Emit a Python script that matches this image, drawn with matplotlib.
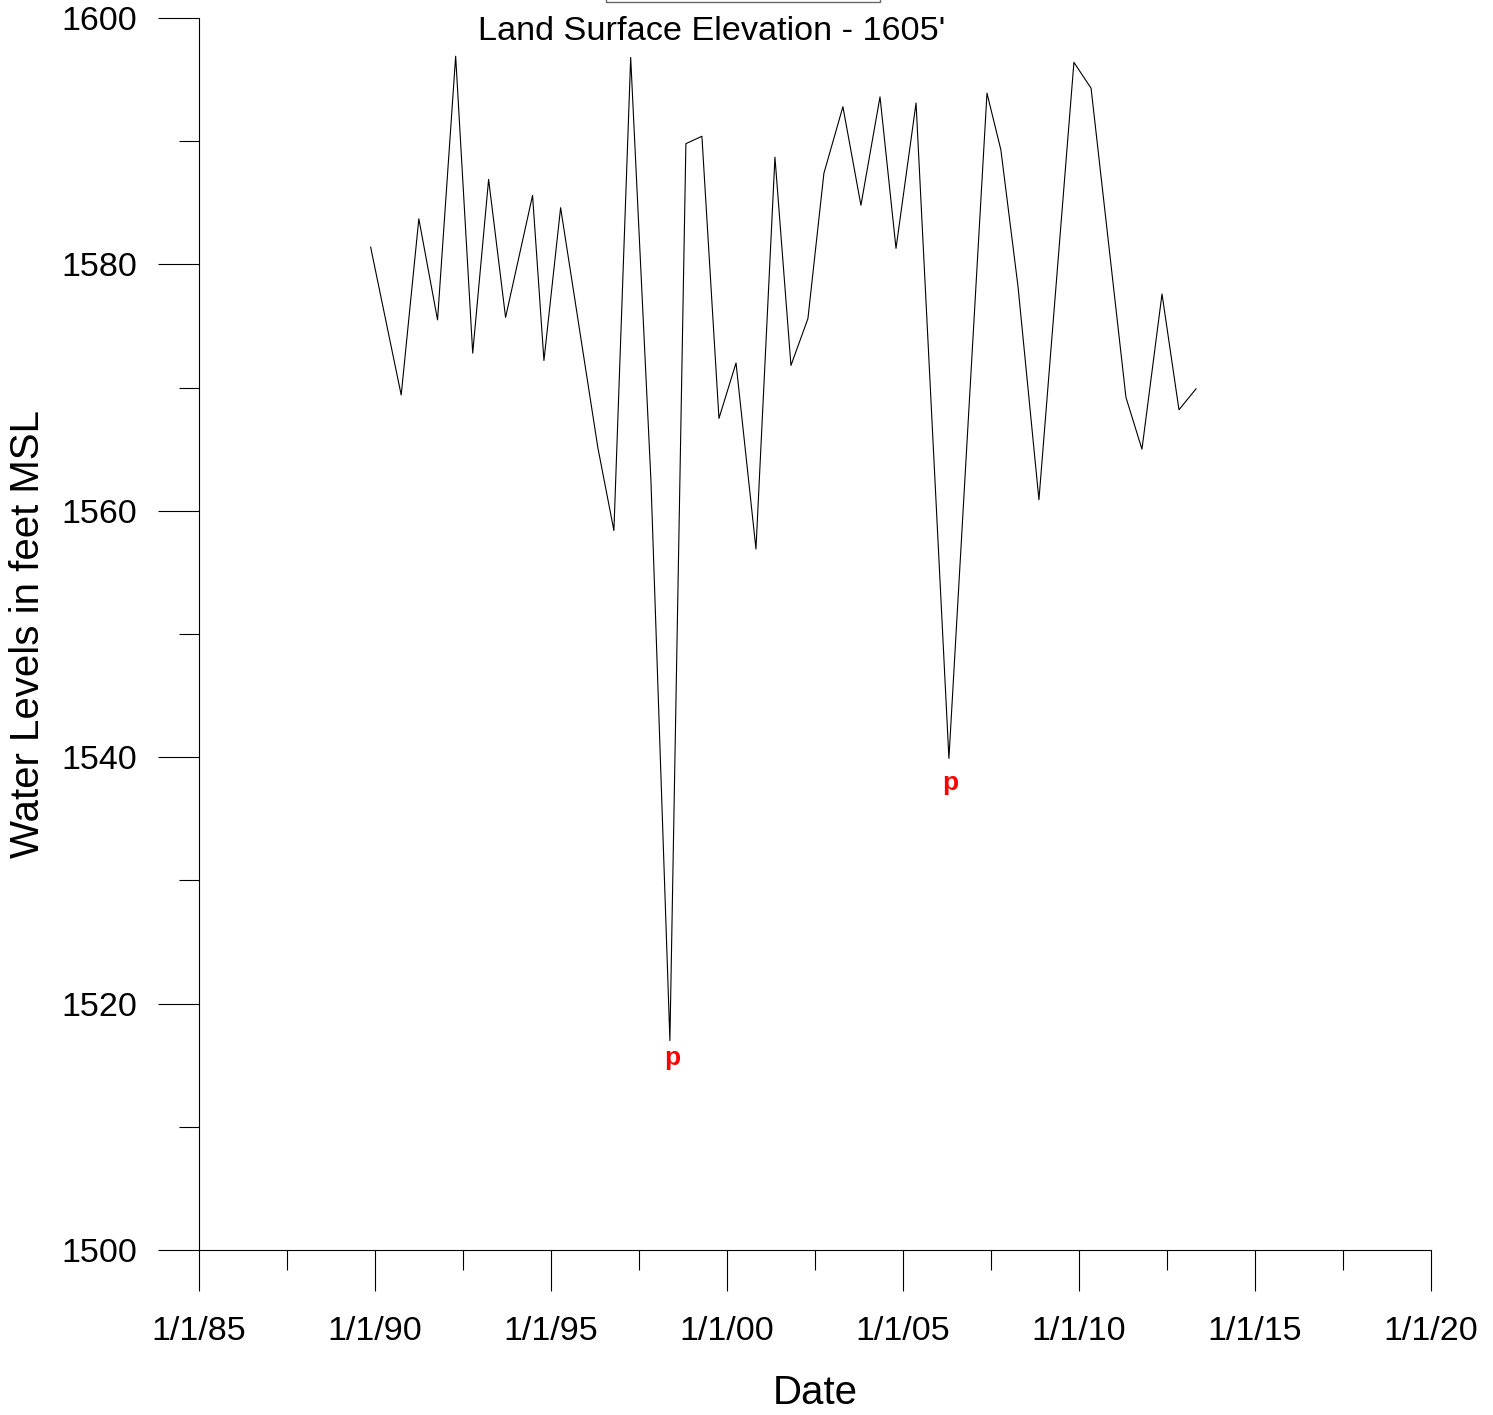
import matplotlib
matplotlib.use('Agg')
import matplotlib.pyplot as plt
import matplotlib.dates as mdates
import matplotlib.patches as mpatches
import numpy as np
from datetime import datetime

plt.rcParams['font.family'] = ['Liberation Sans', 'DejaVu Sans']

# water level readings (date, feet MSL)
dates = ['1989-11-17', '1990-09-30', '1991-04-01', '1991-10-12', '1992-04-17',
         '1992-10-11', '1993-03-25', '1993-09-17', '1994-06-24', '1994-10-20',
         '1995-04-11', '1996-05-02', '1996-10-15', '1997-04-07', '1997-11-03',
         '1998-05-19', '1998-11-01', '1999-04-16', '1999-10-10', '2000-04-04',
         '2000-10-28', '2001-05-13', '2001-10-26', '2002-04-20', '2002-10-03',
         '2003-04-18', '2003-10-22', '2004-05-07', '2004-10-20', '2005-05-16',
         '2006-04-22', '2007-05-22', '2007-10-13', '2008-04-08', '2008-11-11',
         '2009-11-09', '2010-05-06', '2011-05-03', '2011-10-16', '2012-05-11',
         '2012-11-03', '2013-04-29']
levels = [1581.4, 1569.4, 1583.7, 1575.5, 1596.9,
          1572.8, 1586.9, 1575.7, 1585.6, 1572.2,
          1584.6, 1565.1, 1558.4, 1596.8, 1562.5,
          1517.0, 1589.8, 1590.4, 1567.5, 1572.0,
          1556.9, 1588.7, 1571.8, 1575.6, 1587.4,
          1592.8, 1584.8, 1593.6, 1581.3, 1593.1,
          1539.9, 1593.9, 1589.3, 1578.2, 1560.9,
          1596.4, 1594.3, 1569.2, 1565.0, 1577.6,
          1568.2, 1569.9]

# pumping flags
flag_dates = ['1998-05-19', '2006-04-22']
flag_levels = [1517.0, 1539.9]

tick_years = [1985, 1990, 1995, 2000, 2005, 2010, 2015, 2020]
tick_labels = ['1/1/85', '1/1/90', '1/1/95', '1/1/00', '1/1/05', '1/1/10', '1/1/15', '1/1/20']

W, H = 1493, 1415
fig = plt.figure(figsize=(W / 100, H / 100), dpi=100)
ax = fig.add_axes([199 / W, 1 - 1250 / H, 1232 / W, 1232 / H])

x = [datetime.strptime(d, '%Y-%m-%d') for d in dates]
ax.plot(x, levels, color='black', lw=0.8)

for d, v, off in zip(flag_dates, flag_levels, [(2, -4), (1, -9)]):
    ax.annotate('p', (datetime.strptime(d, '%Y-%m-%d'), v), xytext=off,
                textcoords='offset points', ha='center', va='top',
                color='red', fontweight='bold', fontsize=19)

major = mdates.date2num([datetime(y, 1, 1) for y in tick_years])
ax.set_xlim(major[0], major[-1])
ax.set_xticks(major)
ax.set_xticklabels(tick_labels)
ax.set_xticks((major[:-1] + major[1:]) / 2, minor=True)

ax.set_ylim(1500, 1600)
ax.set_yticks(np.arange(1500, 1601, 20))
ax.set_yticks(np.arange(1510, 1600, 20), minor=True)

for s in ['top', 'right']:
    ax.spines[s].set_visible(False)
for s in ['left', 'bottom']:
    ax.spines[s].set_linewidth(0.8)

ax.tick_params(which='major', direction='out', length=29.5, width=0.8, labelsize=24.5)
ax.tick_params(which='minor', direction='out', length=14.5, width=0.8)
ax.tick_params(axis='y', which='major', pad=15)
ax.tick_params(axis='x', which='major', pad=18)

fig.text(28 / W, 1 - 634 / H, 'Water Levels in feet MSL', rotation=90,
         ha='center', va='center', fontsize=29)
fig.text(815 / W, 1 - 1393 / H, 'Date', ha='center', va='center', fontsize=29)
fig.text(712 / W, 1 - 32 / H, "Land Surface Elevation - 1605'", ha='center',
         va='center', fontsize=24.7)

fig.patches.append(mpatches.Rectangle((606 / W, 1 - 2 / H), 274 / W, 0.05,
                                      transform=fig.transFigure, fill=False,
                                      edgecolor='dimgray', lw=1))

fig.savefig('out.png', dpi=100)
